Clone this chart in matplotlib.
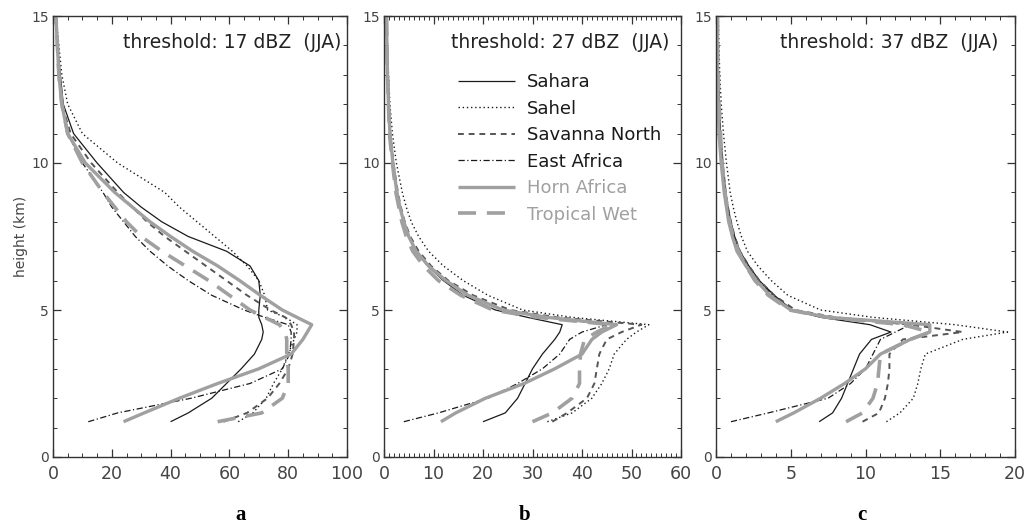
import matplotlib
matplotlib.use("Agg")
import matplotlib.pyplot as plt
from matplotlib.ticker import MultipleLocator

# ---------------- data ----------------
heights = [1.2, 1.5, 2.0, 2.5, 3.0, 3.5, 4.0, 4.25, 4.5, 4.75, 5.0, 5.5, 6.0,
           6.5, 7.0, 7.5, 8.0, 8.5, 9.0, 10.0, 11.0, 12.0, 13.0, 14.0, 15.0]

regions = ["Sahara", "Sahel", "Savanna North", "East Africa", "Horn Africa", "Tropical Wet"]

# panel a: threshold 17 dBZ
a_sahara  = [40, 46, 54, 59, 64, 68.5, 71, 71.5, 71, 70, 70, 70.5, 70, 67, 59, 46, 37, 30, 24, 15, 7, 3.5, 2.5, 1.5, 1]
a_sahel   = [63, 68, 72.5, 75, 78, 80, 82, 83, 83, 79, 73, 72, 70, 66, 61, 55, 49, 43, 38, 22, 10, 5, 3, 2, 1]
a_savanna = [58, 66, 73, 77, 80, 81.5, 82, 82, 81, 79, 74, 66, 59, 52, 45, 38, 32, 27, 22, 13, 6, 3, 2, 1.5, 1]
a_east    = [12, 22, 47, 67, 78, 80.5, 81, 81, 80, 72, 65, 54, 46, 39, 33, 28, 24, 20, 17, 10, 5, 3, 2, 1.5, 1]
a_horn    = [24, 31, 43, 56, 70, 81, 85, 86.5, 88, 83, 78, 70.5, 63.5, 56, 47.5, 40, 33, 27, 21, 11, 5, 3, 2, 1.5, 1]
a_wet     = [56, 71, 78, 80, 80, 79.5, 79.5, 79, 77, 72, 67, 60, 53, 45, 37, 30, 25, 21, 17, 10, 5, 3, 2, 1.5, 1]

# panel b: threshold 27 dBZ
b_sahara  = [20, 24.5, 27, 28.5, 30, 32, 34.5, 35.5, 36, 29, 22.5, 16, 12, 8.8, 6.5, 5, 4, 3.3, 2.7, 1.9, 1.3, 1.0, 0.8, 0.6, 0.5]
b_sahel   = [33, 38, 42, 44, 45.5, 46.5, 49, 51, 53.5, 38, 28, 21, 16, 12, 9, 7, 5.5, 4.5, 3.7, 2.5, 1.7, 1.2, 0.9, 0.7, 0.5]
b_savanna = [34, 37, 41, 42.5, 43, 43.5, 45, 48, 52, 35, 25.5, 18, 13, 9.5, 7, 5.3, 4.2, 3.4, 2.8, 1.9, 1.3, 1.0, 0.8, 0.6, 0.5]
b_east    = [4, 11, 21, 27, 32, 35.5, 37.5, 40, 45, 33, 24, 17, 12.5, 9, 6.7, 5.1, 4, 3.2, 2.6, 1.8, 1.2, 0.9, 0.7, 0.6, 0.5]
b_horn    = [11.5, 14.5, 20.5, 28.3, 34.5, 40, 42, 44, 47, 33, 24, 17, 12.5, 9, 6.5, 5, 4, 3.2, 2.6, 1.8, 1.2, 0.9, 0.7, 0.6, 0.5]
b_wet     = [30, 34, 38, 39.5, 39.5, 39.7, 40.5, 43, 46, 31, 22, 15.5, 11, 8, 5.8, 4.5, 3.6, 3.0, 2.4, 1.7, 1.1, 0.9, 0.7, 0.6, 0.5]

# panel c: threshold 37 dBZ
c_sahara  = [6.9, 7.8, 8.4, 8.8, 9.2, 9.6, 10.4, 11.7, 10.3, 7.0, 5.1, 3.9, 2.9, 2.2, 1.6, 1.25, 1.0, 0.8, 0.65, 0.45, 0.3, 0.2, 0.15, 0.1, 0.1]
c_sahel   = [11.4, 12.3, 13.2, 13.5, 13.7, 14.0, 16.5, 19.5, 16.0, 10.5, 7.0, 4.8, 3.7, 2.8, 2.1, 1.7, 1.4, 1.15, 0.95, 0.7, 0.5, 0.35, 0.25, 0.2, 0.15]
c_savanna = [9.8, 10.9, 11.3, 11.5, 11.6, 11.6, 12.5, 16.5, 13.0, 8.0, 5.3, 3.9, 2.9, 2.2, 1.6, 1.25, 1.0, 0.8, 0.65, 0.45, 0.3, 0.2, 0.15, 0.1, 0.1]
c_east    = [1.0, 3.5, 7.5, 9.0, 10.0, 10.5, 11.0, 12.0, 13.0, 7.2, 5.0, 3.8, 2.8, 2.1, 1.5, 1.2, 0.95, 0.75, 0.6, 0.4, 0.3, 0.2, 0.15, 0.1, 0.1]
c_horn    = [4.0, 5.2, 7.0, 8.6, 10.0, 11.0, 13.0, 14.3, 14.3, 7.5, 5.0, 3.6, 2.7, 2.0, 1.4, 1.1, 0.85, 0.7, 0.55, 0.35, 0.2, 0.15, 0.1, 0.1, 0.1]
c_wet     = [8.7, 9.8, 10.5, 10.8, 10.9, 11.0, 13.0, 14.3, 12.5, 7.5, 4.9, 3.5, 2.6, 2.0, 1.5, 1.15, 0.9, 0.75, 0.6, 0.4, 0.3, 0.2, 0.15, 0.1, 0.1]

titles = ["threshold: 17 dBZ  (JJA)", "threshold: 27 dBZ  (JJA)", "threshold: 37 dBZ  (JJA)"]
panel_letters = ["a", "b", "c"]
xlims = [100, 60, 20]
xmajor = [20, 10, 5]
xminor = [5, 1, 1]

# ---------------- styles ----------------
GRAY = "#a0a0a0"
DARK = "#1a1a1a"
styles = [
    dict(color=DARK, lw=0.9, ls="-"),
    dict(color=DARK, lw=1.0, ls=(0, (1, 2))),
    dict(color="#555555", lw=1.4, ls=(0, (3, 2.5))),
    dict(color=DARK, lw=0.9, ls=(0, (5, 2, 1, 2))),
    dict(color=GRAY, lw=2.4, ls="-"),
    dict(color=GRAY, lw=2.6, ls=(0, (5, 3))),
]

panels = [
    [a_sahara, a_sahel, a_savanna, a_east, a_horn, a_wet],
    [b_sahara, b_sahel, b_savanna, b_east, b_horn, b_wet],
    [c_sahara, c_sahel, c_savanna, c_east, c_horn, c_wet],
]

fig = plt.figure(figsize=(10.30, 5.29), dpi=100)
plt.rcParams['font.family'] = ['DejaVu Sans']

W, H = 1030.0, 529.0
axes_px = [(53, 347), (384, 681), (716, 1015)]
top_px, bot_px = 16, 457
title_x = [0.98, 0.96, 0.945]
letter_x = [241, 525, 862]

for i, (x0, x1) in enumerate(axes_px):
    ax = fig.add_axes([x0 / W, 1 - bot_px / H, (x1 - x0) / W, (bot_px - top_px) / H])
    for vals, name, st in zip(panels[i], regions, styles):
        ax.plot(vals, heights, label=name, solid_capstyle="butt", **st)
    ax.set_xlim(0, xlims[i])
    ax.set_ylim(0, 15)
    ax.xaxis.set_major_locator(MultipleLocator(xmajor[i]))
    ax.xaxis.set_minor_locator(MultipleLocator(xminor[i]))
    ax.yaxis.set_major_locator(MultipleLocator(5))
    ax.yaxis.set_minor_locator(MultipleLocator(1))
    ax.tick_params(which="both", direction="in", top=True, right=True,
                   colors="#333333", labelcolor="#444444")
    ax.tick_params(which="major", length=6, width=0.9)
    ax.tick_params(which="minor", length=3, width=0.7)
    ax.tick_params(axis="x", labelsize=12.5, pad=6)
    ax.tick_params(axis="y", labelsize=10, pad=3)
    for sp in ax.spines.values():
        sp.set_color("#333333")
        sp.set_linewidth(1.0)
    ax.text(title_x[i], 0.94, titles[i], transform=ax.transAxes, ha="right",
            va="center", fontsize=13.5, color="#222222")
    if i == 0:
        ax.set_ylabel("height (km)", fontsize=10, color="#444444", labelpad=2)
    if i == 1:
        leg = ax.legend(loc="upper left", bbox_to_anchor=(0.249, 0.87),
                        frameon=False, fontsize=13, handlelength=3.15,
                        handletextpad=0.66, labelspacing=0.47,
                        borderaxespad=0, borderpad=0)
        for t, c in zip(leg.get_texts(), [DARK, DARK, DARK, DARK, GRAY, GRAY]):
            t.set_color(c)
    fig.text(letter_x[i] / W, 1 - 515 / H, panel_letters[i], ha="center",
             va="center", fontsize=15, fontweight="bold",
             family="Liberation Serif")

fig.savefig("out.png", dpi=100)
